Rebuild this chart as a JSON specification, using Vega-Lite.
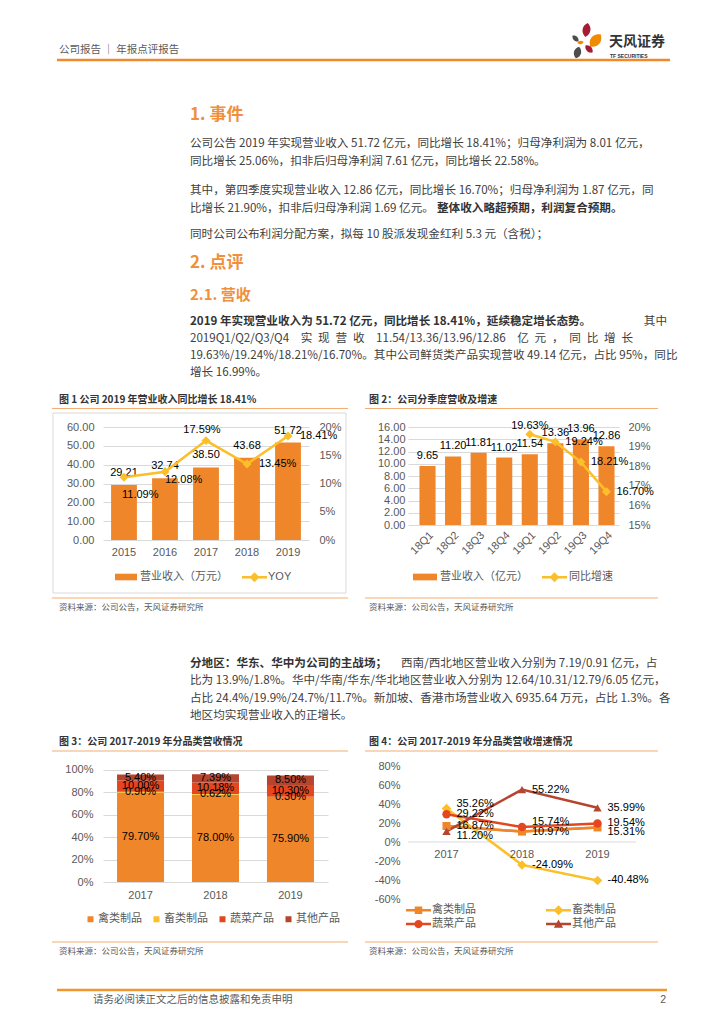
{
  "$schema": "https://vega.github.io/schema/vega-lite/v6.json",
  "background": "white",
  "padding": 0,
  "spacing": 0,
  "bounds": "flush",
  "columns": 4,
  "align": "each",
  "resolve": {
    "scale": {"fill": "independent", "color": "independent", "shape": "independent", "stroke": "independent"},
    "legend": {"fill": "independent", "color": "independent", "shape": "independent", "stroke": "independent"}
  },
  "config": {
    "view": {"stroke": null},
    "font": "Liberation Sans, Noto Sans CJK SC",
    "locale": {"number": {"decimal": ".", "thousands": ",", "grouping": [3], "currency": ["", ""], "minus": "-"}},
    "axis": {"labelColor": "#595959", "labelFontSize": 11, "labelFont": "Liberation Sans, Noto Sans CJK SC", "domain": false, "ticks": false, "grid": false, "labelOverlap": false, "labelBound": false},
    "legend": {"labelColor": "#595959", "labelFontSize": 11, "labelFont": "Liberation Sans, Noto Sans CJK SC", "padding": 0, "title": null},
    "concat": {"spacing": 0}
  },
  "datasets": {
    "headerText": [{"line": 1, "text": "公司报告 ｜ 年报点评报告"}],
    "headings": [
      {"line": 2, "level": 1, "text": "1. 事件"},
      {"line": 8, "level": 1, "text": "2. 点评"},
      {"line": 9, "level": 2, "text": "2.1. 营收"}
    ],
    "topBody": [
      {"line": 3, "text": "公司公告 2019 年实现营业收入 51.72 亿元，同比增长 18.41%；归母净利润为 8.01 亿元，"},
      {"line": 4, "text": "同比增长 25.06%，扣非后归母净利润 7.61 亿元，同比增长 22.58%。"},
      {"line": 5, "text": "其中，第四季度实现营业收入 12.86 亿元，同比增长 16.70%；归母净利润为 1.87 亿元，同"},
      {"line": 6, "text": "比增长 21.90%，扣非后归母净利润 1.69 亿元。"},
      {"line": 7, "text": "同时公司公布利润分配方案，拟每 10 股派发现金红利 5.3 元（含税）；"},
      {"line": 11, "text": "2019Q1/Q2/Q3/Q4\u2002\u2002实\u2002现\u2002营\u2002收\u2002\u200211.54/13.36/13.96/12.86\u2002\u2002亿\u2002元\u2002，\u2002同\u2002比\u2002增\u2002长"},
      {"line": 12, "text": "19.63%/19.24%/18.21%/16.70%。其中公司鲜货类产品实现营收 49.14 亿元，占比 95%，同比"},
      {"line": 13, "text": "增长 16.99%。"}
    ],
    "topBold": [{"line": 10, "text": "2019 年实现营业收入为 51.72 亿元，同比增长 18.41%，延续稳定增长态势。"}],
    "topTail": [{"line": 10, "text": "其中"}],
    "topInlineBold": [{"line": 6, "text": "整体收入略超预期，利润复合预期。"}],
    "topCaptions": [
      {"line": 14, "panel": "left", "text": "图 1 公司 2019 年营业收入同比增长 18.41%"},
      {"line": 14, "panel": "right", "text": "图 2：公司分季度营收及增速"}
    ],
    "midSources": [
      {"line": 1, "panel": "left", "text": "资料来源：公司公告，天风证券研究所"},
      {"line": 1, "panel": "right", "text": "资料来源：公司公告，天风证券研究所"}
    ],
    "midBold": [{"line": 2, "text": "分地区：华东、华中为公司的主战场；"}],
    "midTail": [{"line": 2, "text": "西南/西北地区营业收入分别为 7.19/0.91 亿元，占"}],
    "midBody": [
      {"line": 3, "text": "比为 13.9%/1.8%。华中/华南/华东/华北地区营业收入分别为 12.64/10.31/12.79/6.05 亿元，"},
      {"line": 4, "text": "占比 24.4%/19.9%/24.7%/11.7%。新加坡、香港市场营业收入 6935.64 万元，占比 1.3%。各"},
      {"line": 5, "text": "地区均实现营业收入的正增长。"}
    ],
    "midCaptions": [
      {"line": 6, "panel": "left", "text": "图 3：公司 2017-2019 年分品类营收情况"},
      {"line": 6, "panel": "right", "text": "图 4：公司 2017-2019 年分品类营收增速情况"}
    ],
    "botSources": [
      {"line": 1, "panel": "left", "text": "资料来源：公司公告，天风证券研究所"},
      {"line": 1, "panel": "right", "text": "资料来源：公司公告，天风证券研究所"}
    ],
    "footer": [{"line": 2, "text": "请务必阅读正文之后的信息披露和免责申明"}],
    "pageNo": [{"line": 2, "text": "2"}],
    "annual": [
      {"year": "2015", "revenue": 29.21, "yoy": 0.1109},
      {"year": "2016", "revenue": 32.74, "yoy": 0.1208},
      {"year": "2017", "revenue": 38.50, "yoy": 0.1759},
      {"year": "2018", "revenue": 43.68, "yoy": 0.1345},
      {"year": "2019", "revenue": 51.72, "yoy": 0.1841}
    ],
    "quarterly": [
      {"q": "18Q1", "rev": 9.65, "yoy": null},
      {"q": "18Q2", "rev": 11.20, "yoy": null},
      {"q": "18Q3", "rev": 11.81, "yoy": null},
      {"q": "18Q4", "rev": 11.02, "yoy": null},
      {"q": "19Q1", "rev": 11.54, "yoy": 0.1963},
      {"q": "19Q2", "rev": 13.36, "yoy": 0.1924},
      {"q": "19Q3", "rev": 13.96, "yoy": 0.1821},
      {"q": "19Q4", "rev": 12.86, "yoy": 0.1670}
    ],
    "mix": [
      {"year": "2017", "cat": "禽类制品", "share": 0.797},
      {"year": "2017", "cat": "畜类制品", "share": 0.009},
      {"year": "2017", "cat": "蔬菜产品", "share": 0.100},
      {"year": "2017", "cat": "其他产品", "share": 0.054},
      {"year": "2018", "cat": "禽类制品", "share": 0.780},
      {"year": "2018", "cat": "畜类制品", "share": 0.0062},
      {"year": "2018", "cat": "蔬菜产品", "share": 0.1018},
      {"year": "2018", "cat": "其他产品", "share": 0.0739},
      {"year": "2019", "cat": "禽类制品", "share": 0.759},
      {"year": "2019", "cat": "畜类制品", "share": 0.003},
      {"year": "2019", "cat": "蔬菜产品", "share": 0.103},
      {"year": "2019", "cat": "其他产品", "share": 0.085}
    ],
    "growth": [
      {"year": "2017", "cat": "禽类制品", "growth": 0.1687},
      {"year": "2018", "cat": "禽类制品", "growth": 0.1097},
      {"year": "2019", "cat": "禽类制品", "growth": 0.1531},
      {"year": "2017", "cat": "畜类制品", "growth": 0.3526},
      {"year": "2018", "cat": "畜类制品", "growth": -0.2409},
      {"year": "2019", "cat": "畜类制品", "growth": -0.4048},
      {"year": "2017", "cat": "蔬菜产品", "growth": 0.2922},
      {"year": "2018", "cat": "蔬菜产品", "growth": 0.1574},
      {"year": "2019", "cat": "蔬菜产品", "growth": 0.1954},
      {"year": "2017", "cat": "其他产品", "growth": 0.1120},
      {"year": "2018", "cat": "其他产品", "growth": 0.5522},
      {"year": "2019", "cat": "其他产品", "growth": 0.3599}
    ]
  },
  "concat": [
    {
      "width": 1,
      "height": 427,
      "encoding": {
        "y": {"field": "line", "type": "quantitative", "axis": null,
          "scale": {"domain": [1, 2, 3, 4, 5, 6, 7, 8, 9, 10, 11, 12, 13, 14], "range": [50, 115, 144, 162, 191, 209, 235, 263, 295, 322, 339, 356, 373, 400], "nice": false, "zero": false}}
      },
      "layer": [
        {"data": {"values": [{}]}, "mark": {"type": "rect", "fill": "transparent", "stroke": "#D9D9D9", "strokeWidth": 1}, "encoding": {"x": {"value": 53}, "x2": {"value": 346}, "y": {"value": 413}, "y2": {"value": 593}}},
        {"data": {"values": [{}]}, "mark": {"type": "rule", "stroke": "#F0892B", "strokeWidth": 2.5}, "encoding": {"x": {"value": 57}, "x2": {"value": 670}, "y": {"value": 60}}},
        {"data": {"values": [{}]}, "mark": {"type": "rule", "stroke": "#F4AE72", "strokeWidth": 1.2}, "encoding": {"x": {"value": 52}, "x2": {"value": 348}, "y": {"value": 408.5}}},
        {"data": {"values": [{}]}, "mark": {"type": "rule", "stroke": "#F4AE72", "strokeWidth": 1.2}, "encoding": {"x": {"value": 365}, "x2": {"value": 658}, "y": {"value": 408.5}}},
        {"data": {"values": [{}]}, "mark": {"type": "point", "shape": "M0,-1C0.75,-0.5 0.75,0.5 0,1C-0.75,0.5 -0.75,-0.5 0,-1Z", "filled": true, "opacity": 1, "fill": "#A61C35", "size": 196, "angle": 10, "strokeWidth": 0}, "encoding": {"x": {"value": 586.5}, "y": {"value": 30}}},
        {"data": {"values": [{}]}, "mark": {"type": "point", "shape": "M0,-1C0.85,-0.5 0.85,0.5 0,1C-0.85,0.5 -0.85,-0.5 0,-1Z", "filled": true, "opacity": 1, "fill": "#F08A00", "size": 256, "angle": 40, "strokeWidth": 0}, "encoding": {"x": {"value": 595.5}, "y": {"value": 40.5}}},
        {"data": {"values": [{}]}, "mark": {"type": "point", "shape": "M0,-1C0.75,-0.5 0.75,0.5 0,1C-0.75,0.5 -0.75,-0.5 0,-1Z", "filled": true, "opacity": 1, "fill": "#4D4D4D", "size": 70, "angle": -45, "strokeWidth": 0}, "encoding": {"x": {"value": 575.5}, "y": {"value": 38.5}}},
        {"data": {"values": [{}]}, "mark": {"type": "point", "shape": "M0,-1C0.75,-0.5 0.75,0.5 0,1C-0.75,0.5 -0.75,-0.5 0,-1Z", "filled": true, "opacity": 1, "fill": "#F08A00", "size": 40, "angle": 80, "strokeWidth": 0}, "encoding": {"x": {"value": 580.5}, "y": {"value": 42.5}}},
        {"data": {"values": [{}]}, "mark": {"type": "point", "shape": "M0,-1C0.8,-0.5 0.8,0.5 0,1C-0.8,0.5 -0.8,-0.5 0,-1Z", "filled": true, "opacity": 1, "fill": "#4D4D4D", "size": 144, "angle": 15, "strokeWidth": 0}, "encoding": {"x": {"value": 577.5}, "y": {"value": 52.5}}},
        {"data": {"values": [{}]}, "mark": {"type": "point", "shape": "M0,-1C0.75,-0.5 0.75,0.5 0,1C-0.75,0.5 -0.75,-0.5 0,-1Z", "filled": true, "opacity": 1, "fill": "#A61C35", "size": 100, "angle": -45, "strokeWidth": 0}, "encoding": {"x": {"value": 589}, "y": {"value": 49}}},
        {"data": {"values": [{"t": "天风证券"}]}, "mark": {"type": "text", "align": "left", "baseline": "middle", "font": "Noto Sans CJK SC", "fontWeight": "bold", "fontSize": 14, "color": "#333333"}, "encoding": {"x": {"value": 609}, "y": {"value": 42}, "text": {"field": "t"}}},
        {"data": {"values": [{"t": "TF SECURITIES"}]}, "mark": {"type": "text", "align": "left", "baseline": "middle", "font": "Liberation Sans", "fontWeight": "bold", "fontSize": 5, "color": "#333333"}, "encoding": {"x": {"value": 610}, "y": {"value": 55.5}, "text": {"field": "t"}}},
        {"data": {"name": "headerText"}, "mark": {"type": "text", "align": "left", "baseline": "middle", "font": "Noto Sans CJK SC", "fontSize": 10.5, "color": "#595959"}, "encoding": {"x": {"value": 59}, "text": {"field": "text"}}},
        {"data": {"name": "headings"}, "transform": [{"filter": "datum.level == 1"}], "mark": {"type": "text", "align": "left", "baseline": "middle", "font": "Noto Sans CJK SC", "fontWeight": "bold", "fontSize": 17, "color": "#F0903C"}, "encoding": {"x": {"value": 190}, "text": {"field": "text"}}},
        {"data": {"name": "headings"}, "transform": [{"filter": "datum.level == 2"}], "mark": {"type": "text", "align": "left", "baseline": "middle", "font": "Noto Sans CJK SC", "fontWeight": "bold", "fontSize": 15, "color": "#F0903C"}, "encoding": {"x": {"value": 190}, "text": {"field": "text"}}},
        {"data": {"name": "topBody"}, "mark": {"type": "text", "align": "left", "baseline": "middle", "font": "Noto Sans CJK SC", "fontSize": 11.6, "color": "#404040"}, "encoding": {"x": {"value": 190}, "text": {"field": "text"}}},
        {"data": {"name": "topBold"}, "mark": {"type": "text", "align": "left", "baseline": "middle", "font": "Noto Sans CJK SC", "fontWeight": "bold", "fontSize": 11.6, "color": "#333333"}, "encoding": {"x": {"value": 190}, "text": {"field": "text"}}},
        {"data": {"name": "topTail"}, "mark": {"type": "text", "align": "right", "baseline": "middle", "font": "Noto Sans CJK SC", "fontSize": 11.6, "color": "#404040"}, "encoding": {"x": {"value": 667}, "text": {"field": "text"}}},
        {"data": {"name": "topInlineBold"}, "mark": {"type": "text", "align": "left", "baseline": "middle", "font": "Noto Sans CJK SC", "fontWeight": "bold", "fontSize": 11.6, "color": "#333333"}, "encoding": {"x": {"value": 437}, "text": {"field": "text"}}},
        {"data": {"name": "topCaptions"}, "mark": {"type": "text", "align": "left", "baseline": "middle", "font": "Noto Sans CJK SC", "fontWeight": "bold", "fontSize": 10, "color": "#333333"},
          "encoding": {"x": {"field": "panel", "type": "nominal", "axis": null, "scale": {"type": "point", "domain": ["left", "right"], "range": [59, 369], "padding": 0}}, "text": {"field": "text"}}}
      ]
    },
    {"width": 1, "height": 1, "data": {"values": []}, "mark": "text", "encoding": {}},
    {"width": 1, "height": 1, "data": {"values": []}, "mark": "text", "encoding": {}},
    {"width": 1, "height": 1, "data": {"values": []}, "mark": "text", "encoding": {}},
    {"width": 103, "height": 113, "data": {"values": []}, "mark": "text", "encoding": {}},
    {
      "width": 206,
      "height": 113,
      "data": {"name": "annual"},
      "layer": [
        {
          "layer": [
            {"mark": {"type": "bar"},
              "encoding": {
                "x": {"field": "year", "type": "ordinal", "scale": {"paddingInner": 0.37, "paddingOuter": 0.197}, "axis": {"labelAngle": 0, "labelPadding": 6, "labelOverlap": false, "title": null}},
                "y": {"field": "revenue", "type": "quantitative", "scale": {"domain": [0, 60], "nice": false}, "axis": {"values": [0, 10, 20, 30, 40, 50, 60], "tickCount": 20, "format": ".2f", "grid": true, "gridColor": "#D9D9D9", "labelPadding": 9, "labelOverlap": false, "title": null}},
                "fill": {"datum": "营业收入（万元）", "type": "nominal", "scale": {"range": ["#F0862A"]},
                  "legend": {"orient": "none", "legendX": 12, "legendY": 139, "symbolType": "M-1,-0.3H1V0.3H-1Z", "symbolSize": 484, "symbolStrokeWidth": 0, "labelOffset": 3, "title": null}}
              }},
            {"mark": {"type": "text", "dy": -12, "fontSize": 11, "color": "#000000"},
              "encoding": {
                "x": {"field": "year", "type": "ordinal"},
                "y": {"field": "revenue", "type": "quantitative"},
                "text": {"field": "revenue", "type": "quantitative", "format": ".2f"}
              }}
          ]
        },
        {
          "layer": [
            {"mark": {"type": "line", "color": "#FBBF2A", "strokeWidth": 2.5},
              "encoding": {
                "x": {"field": "year", "type": "ordinal"},
                "y": {"field": "yoy", "type": "quantitative", "scale": {"domain": [0, 0.2], "nice": false}, "axis": {"orient": "right", "values": [0, 0.05, 0.1, 0.15, 0.2], "tickCount": 20, "format": ".0%", "labelPadding": 10, "labelOverlap": false, "title": null}}
              }},
            {"mark": {"type": "point", "shape": "diamond", "filled": true, "opacity": 1, "size": 80, "strokeWidth": 0},
              "encoding": {
                "x": {"field": "year", "type": "ordinal"},
                "y": {"field": "yoy", "type": "quantitative"},
                "fill": {"datum": "YOY", "type": "nominal", "scale": {"range": ["#FBBF2A"]},
                  "legend": {"orient": "none", "legendX": 143, "legendY": 141.7, "symbolType": "M-1.5,-0.15H1.5V0.15H-1.5Z M0,-0.6L0.6,0L0,0.6L-0.6,0Z", "symbolSize": 278, "symbolStrokeWidth": 0, "symbolOpacity": 1, "labelOffset": 5, "title": null}}
              }},
            {"transform": [{"filter": "datum.year == '2015'"}], "mark": {"type": "text", "align": "left", "baseline": "middle", "dx": -2, "dy": 18, "fontSize": 11, "color": "#000000"},
              "encoding": {"x": {"field": "year", "type": "ordinal"}, "y": {"field": "yoy", "type": "quantitative"}, "text": {"field": "yoy", "type": "quantitative", "format": ".2%"}}},
            {"transform": [{"filter": "datum.year == '2016'"}], "mark": {"type": "text", "align": "left", "baseline": "middle", "dx": 0, "dy": 8, "fontSize": 11, "color": "#000000"},
              "encoding": {"x": {"field": "year", "type": "ordinal"}, "y": {"field": "yoy", "type": "quantitative"}, "text": {"field": "yoy", "type": "quantitative", "format": ".2%"}}},
            {"transform": [{"filter": "datum.year == '2017'"}], "mark": {"type": "text", "align": "center", "baseline": "middle", "dx": -4, "dy": -11, "fontSize": 11, "color": "#000000"},
              "encoding": {"x": {"field": "year", "type": "ordinal"}, "y": {"field": "yoy", "type": "quantitative"}, "text": {"field": "yoy", "type": "quantitative", "format": ".2%"}}},
            {"transform": [{"filter": "datum.year == '2018' || datum.year == '2019'"}], "mark": {"type": "text", "align": "left", "baseline": "middle", "dx": 12, "dy": 0, "fontSize": 11, "color": "#000000"},
              "encoding": {"x": {"field": "year", "type": "ordinal"}, "y": {"field": "yoy", "type": "quantitative"}, "text": {"field": "yoy", "type": "quantitative", "format": ".2%"}}}
          ]
        }
      ],
      "resolve": {"scale": {"y": "independent", "fill": "independent"}}
    },
    {"width": 80, "height": 113, "data": {"values": []}, "mark": "text", "encoding": {}},
    {
      "width": 211,
      "height": 98,
      "data": {"name": "quarterly"},
      "layer": [
        {
          "layer": [
            {"mark": {"type": "bar"},
              "encoding": {
                "x": {"field": "q", "type": "ordinal", "scale": {"paddingInner": 0.37, "paddingOuter": 0.311, "align": 0.72}, "axis": {"labelAngle": -45, "labelPadding": 4, "labelOverlap": false, "title": null}},
                "y": {"field": "rev", "type": "quantitative", "scale": {"domain": [0, 16], "nice": false}, "axis": {"values": [0, 2, 4, 6, 8, 10, 12, 14, 16], "tickCount": 20, "format": ".2f", "grid": true, "gridColor": "#D9D9D9", "labelPadding": 10, "labelOverlap": false, "offset": -7, "title": null}},
                "fill": {"datum": "营业收入（亿元）", "type": "nominal", "scale": {"range": ["#F0862A"]},
                  "legend": {"orient": "none", "legendX": 5, "legendY": 138, "symbolType": "M-1,-0.28H1V0.28H-1Z", "symbolSize": 576, "symbolStrokeWidth": 0, "labelOffset": 3, "title": null}}
              }},
            {"mark": {"type": "text", "dy": -10, "fontSize": 11, "color": "#000000"},
              "encoding": {
                "x": {"field": "q", "type": "ordinal"},
                "y": {"field": "rev", "type": "quantitative"},
                "text": {"field": "rev", "type": "quantitative", "format": ".2f"}
              }}
          ]
        },
        {
          "transform": [{"filter": "isValid(datum.yoy)"}],
          "layer": [
            {"mark": {"type": "line", "color": "#FBBF2A", "strokeWidth": 2.5},
              "encoding": {
                "x": {"field": "q", "type": "ordinal"},
                "y": {"field": "yoy", "type": "quantitative", "scale": {"domain": [0.15, 0.2], "nice": false, "zero": false}, "axis": {"orient": "right", "values": [0.15, 0.16, 0.17, 0.18, 0.19, 0.2], "tickCount": 20, "format": ".0%", "labelPadding": 9, "labelOverlap": false, "title": null}}
              }},
            {"mark": {"type": "point", "shape": "diamond", "filled": true, "opacity": 1, "size": 80, "strokeWidth": 0},
              "encoding": {
                "x": {"field": "q", "type": "ordinal"},
                "y": {"field": "yoy", "type": "quantitative"},
                "fill": {"datum": "同比增速", "type": "nominal", "scale": {"range": ["#FBBF2A"]},
                  "legend": {"orient": "none", "legendX": 138, "legendY": 141.7, "symbolType": "M-1.5,-0.15H1.5V0.15H-1.5Z M0,-0.6L0.6,0L0,0.6L-0.6,0Z", "symbolSize": 278, "symbolStrokeWidth": 0, "symbolOpacity": 1, "labelOffset": 6, "title": null}}
              }},
            {"transform": [{"filter": "datum.q == '19Q1'"}], "mark": {"type": "text", "align": "center", "baseline": "middle", "dy": -8, "fontSize": 11, "color": "#000000"},
              "encoding": {"x": {"field": "q", "type": "ordinal"}, "y": {"field": "yoy", "type": "quantitative"}, "text": {"field": "yoy", "type": "quantitative", "format": ".2%"}}},
            {"transform": [{"filter": "datum.q != '19Q1'"}], "mark": {"type": "text", "align": "left", "baseline": "middle", "dx": 10, "fontSize": 11, "color": "#000000"},
              "encoding": {"x": {"field": "q", "type": "ordinal"}, "y": {"field": "yoy", "type": "quantitative"}, "text": {"field": "yoy", "type": "quantitative", "format": ".2%"}}}
          ]
        }
      ],
      "resolve": {"scale": {"y": "independent", "fill": "independent"}}
    },
    {
      "width": 1,
      "height": 226,
      "encoding": {
        "y": {"field": "line", "type": "quantitative", "axis": null,
          "scale": {"domain": [1, 2, 3, 4, 5, 6], "range": [67, 124, 141, 159, 176, 202], "nice": false, "zero": false}}
      },
      "layer": [
        {"data": {"values": [{}]}, "mark": {"type": "rule", "stroke": "#F4AE72", "strokeWidth": 1.2}, "encoding": {"x": {"value": 52}, "x2": {"value": 348}, "y": {"value": 58}}},
        {"data": {"values": [{}]}, "mark": {"type": "rule", "stroke": "#F4AE72", "strokeWidth": 1.2}, "encoding": {"x": {"value": 365}, "x2": {"value": 658}, "y": {"value": 58}}},
        {"data": {"values": [{}]}, "mark": {"type": "rule", "stroke": "#F4AE72", "strokeWidth": 1.2}, "encoding": {"x": {"value": 52}, "x2": {"value": 348}, "y": {"value": 211}}},
        {"data": {"values": [{}]}, "mark": {"type": "rule", "stroke": "#F4AE72", "strokeWidth": 1.2}, "encoding": {"x": {"value": 365}, "x2": {"value": 658}, "y": {"value": 211}}},
        {"data": {"name": "midSources"}, "mark": {"type": "text", "align": "left", "baseline": "middle", "font": "Noto Sans CJK SC", "fontSize": 8.5, "color": "#595959"},
          "encoding": {"x": {"field": "panel", "type": "nominal", "axis": null, "scale": {"type": "point", "domain": ["left", "right"], "range": [59, 369], "padding": 0}}, "text": {"field": "text"}}},
        {"data": {"name": "midCaptions"}, "mark": {"type": "text", "align": "left", "baseline": "middle", "font": "Noto Sans CJK SC", "fontWeight": "bold", "fontSize": 10, "color": "#333333"},
          "encoding": {"x": {"field": "panel", "type": "nominal", "axis": null, "scale": {"type": "point", "domain": ["left", "right"], "range": [59, 369], "padding": 0}}, "text": {"field": "text"}}},
        {"data": {"name": "midBold"}, "mark": {"type": "text", "align": "left", "baseline": "middle", "font": "Noto Sans CJK SC", "fontWeight": "bold", "fontSize": 11.6, "color": "#333333"}, "encoding": {"x": {"value": 190}, "text": {"field": "text"}}},
        {"data": {"name": "midTail"}, "mark": {"type": "text", "align": "left", "baseline": "middle", "font": "Noto Sans CJK SC", "fontSize": 11.6, "color": "#404040"}, "encoding": {"x": {"value": 401}, "text": {"field": "text"}}},
        {"data": {"name": "midBody"}, "mark": {"type": "text", "align": "left", "baseline": "middle", "font": "Noto Sans CJK SC", "fontSize": 11.6, "color": "#404040"}, "encoding": {"x": {"value": 190}, "text": {"field": "text"}}}
      ]
    },
    {"width": 1, "height": 1, "data": {"values": []}, "mark": "text", "encoding": {}},
    {"width": 1, "height": 1, "data": {"values": []}, "mark": "text", "encoding": {}},
    {"width": 1, "height": 1, "data": {"values": []}, "mark": "text", "encoding": {}},
    {"width": 103, "height": 133, "data": {"values": []}, "mark": "text", "encoding": {}},
    {
      "width": 225,
      "height": 116,
      "data": {"name": "mix"},
      "transform": [{"stack": "share", "groupby": ["year"], "as": ["s0", "s1"]}],
      "layer": [
        {"mark": {"type": "bar"},
          "encoding": {
            "x": {"field": "year", "type": "ordinal", "scale": {"paddingInner": 0.373, "paddingOuter": 0.187}, "axis": {"labelAngle": 0, "labelPadding": 7, "labelOverlap": false, "title": null}},
            "y": {"field": "s0", "type": "quantitative", "scale": {"domain": [0, 1.0357], "nice": false}, "axis": {"values": [0, 0.2, 0.4, 0.6, 0.8, 1], "tickCount": 20, "format": ".0%", "grid": true, "gridColor": "#D9D9D9", "labelPadding": 10, "labelOverlap": false, "title": null}},
            "y2": {"field": "s1"},
            "fill": {"field": "cat", "type": "nominal",
              "scale": {"domain": ["禽类制品", "畜类制品", "蔬菜产品", "其他产品"], "range": ["#F0862A", "#FBBF2A", "#E4471F", "#B5452F"]},
              "legend": {"orient": "none", "direction": "horizontal", "columns": 4, "legendX": -18, "legendY": 147.5, "symbolType": "square", "symbolSize": 36, "symbolStrokeWidth": 0, "labelOffset": 2, "columnPadding": 9, "title": null}}
          }},
        {"transform": [
            {"fold": ["s0", "s1"], "as": ["edge", "pos"]},
            {"aggregate": [{"op": "mean", "field": "pos", "as": "mid"}, {"op": "max", "field": "share", "as": "share"}], "groupby": ["year", "cat"]}
          ],
          "mark": {"type": "text", "fontSize": 11, "color": "#000000", "baseline": "middle"},
          "encoding": {
            "x": {"field": "year", "type": "ordinal"},
            "y": {"field": "mid", "type": "quantitative"},
            "text": {"field": "share", "type": "quantitative", "format": ".2%"}
          }}
      ]
    },
    {"width": 80, "height": 133, "data": {"values": []}, "mark": "text", "encoding": {}},
    {
      "width": 228,
      "height": 133,
      "data": {"name": "growth"},
      "layer": [
        {"mark": {"type": "line", "strokeWidth": 2.5, "color": "#F0862A"}, "transform": [{"filter": "datum.cat == '禽类制品'"}],
          "encoding": {
            "x": {"field": "year", "type": "ordinal", "scale": {"type": "point", "padding": 0.51}, "axis": null},
            "y": {"field": "growth", "type": "quantitative", "scale": {"domain": [-0.6, 0.8], "nice": false, "zero": false}, "axis": {"values": [-0.6, -0.4, -0.2, 0, 0.2, 0.4, 0.6, 0.8], "tickCount": 20, "format": ".0%", "labelPadding": 8, "labelOverlap": false, "title": null}}
          }},
        {"data": {"values": [{}]}, "mark": {"type": "rule", "stroke": "#D9D9D9", "strokeWidth": 1},
          "encoding": {"y": {"datum": 0, "type": "quantitative"}}},
        {"mark": {"type": "line", "strokeWidth": 2.5, "color": "#F0862A"}, "transform": [{"filter": "datum.cat == '禽类制品'"}],
          "encoding": {"x": {"field": "year", "type": "ordinal"}, "y": {"field": "growth", "type": "quantitative"}}},
        {"mark": {"type": "line", "strokeWidth": 2.5, "color": "#FBBF2A"}, "transform": [{"filter": "datum.cat == '畜类制品'"}],
          "encoding": {"x": {"field": "year", "type": "ordinal"}, "y": {"field": "growth", "type": "quantitative"}}},
        {"mark": {"type": "line", "strokeWidth": 2.5, "color": "#E4471F"}, "transform": [{"filter": "datum.cat == '蔬菜产品'"}],
          "encoding": {"x": {"field": "year", "type": "ordinal"}, "y": {"field": "growth", "type": "quantitative"}}},
        {"mark": {"type": "line", "strokeWidth": 2.5, "color": "#B5452F"}, "transform": [{"filter": "datum.cat == '其他产品'"}],
          "encoding": {"x": {"field": "year", "type": "ordinal"}, "y": {"field": "growth", "type": "quantitative"}}},
        {"transform": [{"filter": "datum.cat == '禽类制品'"}], "mark": {"type": "point", "shape": "square", "filled": true, "opacity": 1, "size": 64, "strokeWidth": 0, "color": "#F0862A"},
          "encoding": {"x": {"field": "year", "type": "ordinal"}, "y": {"field": "growth", "type": "quantitative"}}},
        {"transform": [{"filter": "datum.cat == '畜类制品'"}], "mark": {"type": "point", "shape": "diamond", "filled": true, "opacity": 1, "size": 90, "strokeWidth": 0, "color": "#FBBF2A"},
          "encoding": {"x": {"field": "year", "type": "ordinal"}, "y": {"field": "growth", "type": "quantitative"}}},
        {"transform": [{"filter": "datum.cat == '蔬菜产品'"}], "mark": {"type": "point", "shape": "circle", "filled": true, "opacity": 1, "size": 70, "strokeWidth": 0, "color": "#E4471F"},
          "encoding": {"x": {"field": "year", "type": "ordinal"}, "y": {"field": "growth", "type": "quantitative"}}},
        {"transform": [{"filter": "datum.cat == '其他产品'"}], "mark": {"type": "point", "shape": "triangle-up", "filled": true, "opacity": 1, "size": 70, "strokeWidth": 0, "color": "#B5452F"},
          "encoding": {"x": {"field": "year", "type": "ordinal"}, "y": {"field": "growth", "type": "quantitative"}}},
        {"transform": [{"filter": "datum.cat == '禽类制品'"}], "mark": {"type": "text", "align": "center", "baseline": "middle", "dy": 13, "fontSize": 11, "color": "#595959"},
          "encoding": {"x": {"field": "year", "type": "ordinal"}, "y": {"datum": 0, "type": "quantitative"}, "text": {"field": "year"}}},
        {"transform": [{"filter": "!((datum.year == '2017' && (datum.cat == '畜类制品' || datum.cat == '其他产品')) || (datum.year == '2018' && datum.cat == '蔬菜产品') || (datum.year == '2019' && datum.cat == '禽类制品'))"}],
          "mark": {"type": "text", "align": "left", "baseline": "middle", "dx": 10, "fontSize": 11, "color": "#000000"},
          "encoding": {"x": {"field": "year", "type": "ordinal"}, "y": {"field": "growth", "type": "quantitative"}, "text": {"field": "growth", "type": "quantitative", "format": ".2%"}}},
        {"transform": [{"filter": "(datum.year == '2017' && datum.cat == '畜类制品') || (datum.year == '2018' && datum.cat == '蔬菜产品')"}],
          "mark": {"type": "text", "align": "left", "baseline": "middle", "dx": 10, "dy": -5, "fontSize": 11, "color": "#000000"},
          "encoding": {"x": {"field": "year", "type": "ordinal"}, "y": {"field": "growth", "type": "quantitative"}, "text": {"field": "growth", "type": "quantitative", "format": ".2%"}}},
        {"transform": [{"filter": "(datum.year == '2017' && datum.cat == '其他产品') || (datum.year == '2019' && datum.cat == '禽类制品')"}],
          "mark": {"type": "text", "align": "left", "baseline": "middle", "dx": 10, "dy": 5, "fontSize": 11, "color": "#000000"},
          "encoding": {"x": {"field": "year", "type": "ordinal"}, "y": {"field": "growth", "type": "quantitative"}, "text": {"field": "growth", "type": "quantitative", "format": ".2%"}}},
        {"transform": [{"filter": "false"}],
          "mark": {"type": "point", "filled": true, "opacity": 1, "strokeWidth": 0},
          "encoding": {
            "x": {"field": "year", "type": "ordinal"},
            "y": {"field": "growth", "type": "quantitative"},
            "fill": {"field": "cat", "type": "nominal",
              "scale": {"domain": ["禽类制品", "畜类制品", "蔬菜产品", "其他产品"], "range": ["#F0862A", "#FBBF2A", "#E4471F", "#B5452F"]},
              "legend": {"orient": "none", "direction": "horizontal", "columns": 2, "legendX": 2, "legendY": 135.6, "symbolSize": 278, "symbolStrokeWidth": 0, "symbolOpacity": 1, "labelOffset": 5, "columnPadding": 69, "rowPadding": 0, "title": null}},
            "shape": {"field": "cat", "type": "nominal",
              "scale": {"domain": ["禽类制品", "畜类制品", "蔬菜产品", "其他产品"], "range": [
                "M-1.5,-0.15H1.5V0.15H-1.5Z M-0.45,-0.45H0.45V0.45H-0.45Z",
                "M-1.5,-0.15H1.5V0.15H-1.5Z M0,-0.6L0.6,0L0,0.6L-0.6,0Z",
                "M-1.5,-0.15H1.5V0.15H-1.5Z M0.5,0A0.5,0.5 0 1,1 -0.5,0A0.5,0.5 0 1,1 0.5,0Z",
                "M-1.5,-0.15H1.5V0.15H-1.5Z M0,-0.55L0.55,0.45L-0.55,0.45Z"]},
              "legend": {"orient": "none", "direction": "horizontal", "columns": 2, "legendX": 2, "legendY": 135.6, "symbolSize": 278, "symbolStrokeWidth": 0, "symbolOpacity": 1, "labelOffset": 5, "columnPadding": 69, "rowPadding": 0, "title": null}}
          }}
      ]
    },
    {
      "width": 1,
      "height": 125,
      "encoding": {
        "y": {"field": "line", "type": "quantitative", "axis": null,
          "scale": {"domain": [1, 2], "range": [52, 101], "nice": false, "zero": false}}
      },
      "layer": [
        {"data": {"values": [{}]}, "mark": {"type": "rule", "stroke": "#F4AE72", "strokeWidth": 1.2}, "encoding": {"x": {"value": 52}, "x2": {"value": 348}, "y": {"value": 43}}},
        {"data": {"values": [{}]}, "mark": {"type": "rule", "stroke": "#F4AE72", "strokeWidth": 1.2}, "encoding": {"x": {"value": 365}, "x2": {"value": 658}, "y": {"value": 43}}},
        {"data": {"values": [{}]}, "mark": {"type": "rule", "stroke": "#F0962B", "strokeWidth": 2.5}, "encoding": {"x": {"value": 57}, "x2": {"value": 667}, "y": {"value": 91}}},
        {"data": {"name": "botSources"}, "mark": {"type": "text", "align": "left", "baseline": "middle", "font": "Noto Sans CJK SC", "fontSize": 8.5, "color": "#595959"},
          "encoding": {"x": {"field": "panel", "type": "nominal", "axis": null, "scale": {"type": "point", "domain": ["left", "right"], "range": [59, 369], "padding": 0}}, "text": {"field": "text"}}},
        {"data": {"name": "footer"}, "mark": {"type": "text", "align": "left", "baseline": "middle", "font": "Noto Sans CJK SC", "fontSize": 10.5, "color": "#595959"}, "encoding": {"x": {"value": 93}, "text": {"field": "text"}}},
        {"data": {"name": "pageNo"}, "mark": {"type": "text", "align": "right", "baseline": "middle", "font": "Liberation Sans", "fontSize": 10.5, "color": "#595959"}, "encoding": {"x": {"value": 666}, "text": {"field": "text"}}}
      ]
    },
    {"width": 1, "height": 1, "data": {"values": []}, "mark": "text", "encoding": {}},
    {"width": 1, "height": 1, "data": {"values": []}, "mark": "text", "encoding": {}},
    {"width": 1, "height": 1, "data": {"values": []}, "mark": "text", "encoding": {}}
  ]
}
